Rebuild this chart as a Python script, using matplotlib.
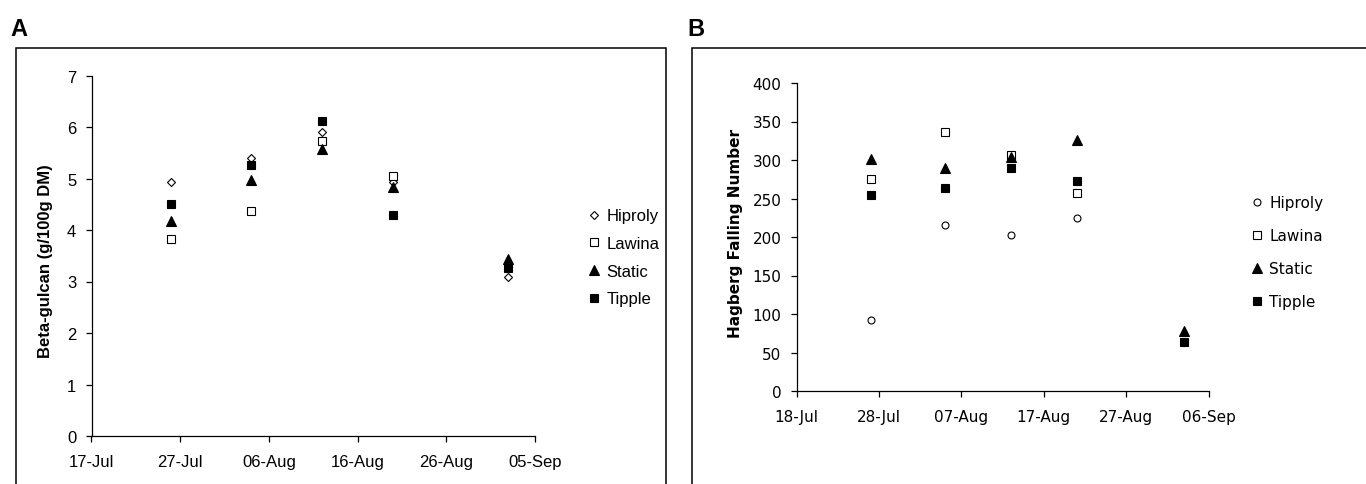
import numpy as np
import matplotlib
matplotlib.use('Agg')
import matplotlib.pyplot as plt
import matplotlib.dates as mdates
from matplotlib.patches import Rectangle
from datetime import date, timedelta

# ── data ─────────────────────────────────────────────────────────────────
varieties = ['Hiproly', 'Lawina', 'Static', 'Tipple']

dates_a = ['2008-07-26', '2008-08-04', '2008-08-12', '2008-08-20', '2008-09-02']
hiproly_a = [4.93, 5.40, 5.90, 4.93, 3.09]
lawina_a = [3.83, 4.37, 5.72, 5.05, np.nan]
static_a = [4.17, 4.97, 5.58, 4.83, 3.43]
tipple_a = [4.50, 5.26, 6.11, 4.30, 3.26]

dates_b = ['2008-07-27', '2008-08-05', '2008-08-13', '2008-08-21', '2008-09-03']
hiproly_b = [92, 215, 203, 225, np.nan]
lawina_b = [275, 337, 306, 257, np.nan]
static_b = [301, 290, 304, 326, 78]
tipple_b = [254, 264, 289, 273, 64]

W, H = 1366, 485
fig = plt.figure(figsize=(W / 100, H / 100), dpi=100)


def fx(px):
    return px / W


def fy(py):
    return 1 - py / H


def style_axes(ax, font, size):
    for s in ['top', 'right']:
        ax.spines[s].set_visible(False)
    for s in ['left', 'bottom']:
        ax.spines[s].set_linewidth(0.9)
        ax.spines[s].set_color('black')
    ax.tick_params(direction='out', length=4, width=0.9, colors='black')
    ax.tick_params(axis='x', pad=9)
    ax.tick_params(axis='y', pad=7)
    for lab in ax.get_xticklabels() + ax.get_yticklabels():
        lab.set_fontfamily(font)
        lab.set_fontsize(size)


def draw_points(ax, x, series, markers):
    for name, vals, (mk, ms, fc) in zip(varieties, series, markers):
        ax.plot(x, vals, linestyle='none', marker=mk, markersize=ms,
                markerfacecolor=fc, markeredgecolor='black',
                markeredgewidth=0.8, label=name)


# ── panel A ──────────────────────────────────────────────────────────────
axA = fig.add_axes([fx(91.5), fy(437), fx(535) - fx(91.5), fy(76.5) - fy(437)])
xa = [np.datetime64(d) for d in dates_a]
markers_a = [('D', 4.5, 'white'), ('s', 5.5, 'white'),
             ('^', 7, 'black'), ('s', 5.8, 'black')]
draw_points(axA, xa, [hiproly_a, lawina_a, static_a, tipple_a], markers_a)
start_a = date(2008, 7, 17)
ticks_a = [start_a + timedelta(days=10 * i) for i in range(6)]
axA.set_xlim(ticks_a[0], ticks_a[-1])
axA.set_xticks(ticks_a)
axA.xaxis.set_major_formatter(mdates.DateFormatter('%d-%b'))
axA.set_ylim(0, 7)
axA.set_yticks(range(8))
style_axes(axA, 'Liberation Sans', 12)
fig.text(fx(45.5), fy(261), 'Beta-gulcan (g/100g DM)', rotation=90,
         ha='center', va='center', fontsize=12, fontweight='bold',
         family='Liberation Sans')
axA.legend(loc='center left', bbox_to_anchor=(fx(587.3), fy(258.5)),
           bbox_transform=fig.transFigure, frameon=False, borderpad=0,
           borderaxespad=0, handlelength=0.8, handletextpad=0.35,
           labelspacing=0.76, prop={'family': 'Liberation Sans', 'size': 12})

# ── panel B ──────────────────────────────────────────────────────────────
axB = fig.add_axes([fx(796.7), fy(392), fx(1208.5) - fx(796.7), fy(84) - fy(392)])
xb = [np.datetime64(d) for d in dates_b]
markers_b = [('o', 5, 'white'), ('s', 5.5, 'white'),
             ('^', 7, 'black'), ('s', 5.8, 'black')]
draw_points(axB, xb, [hiproly_b, lawina_b, static_b, tipple_b], markers_b)
start_b = date(2008, 7, 18)
ticks_b = [start_b + timedelta(days=10 * i) for i in range(6)]
axB.set_xlim(ticks_b[0], ticks_b[-1])
axB.set_xticks(ticks_b)
axB.xaxis.set_major_formatter(mdates.DateFormatter('%d-%b'))
axB.set_ylim(0, 400)
axB.set_yticks(range(0, 401, 50))
style_axes(axB, 'DejaVu Sans', 11)
fig.text(fx(735.5), fy(234), 'Hagberg Falling Number', rotation=90,
         ha='center', va='center', fontsize=11, fontweight='bold',
         family='DejaVu Sans')
axB.legend(loc='center left', bbox_to_anchor=(fx(1250.9), fy(253)),
           bbox_transform=fig.transFigure, frameon=False, borderpad=0,
           borderaxespad=0, handlelength=0.8, handletextpad=0.4,
           labelspacing=1.18, prop={'family': 'DejaVu Sans', 'size': 11})

# ── panel frames and letters ─────────────────────────────────────────────
fig.patches.append(Rectangle((fx(16), fy(500)), fx(666) - fx(16), fy(49) - fy(500),
                             transform=fig.transFigure, fill=False,
                             edgecolor='black', linewidth=1.1, clip_on=False))
fig.patches.append(Rectangle((fx(692), fy(500)), fx(1400) - fx(692), fy(49) - fy(500),
                             transform=fig.transFigure, fill=False,
                             edgecolor='black', linewidth=1.1, clip_on=False))
fig.text(fx(10), fy(18), 'A', ha='left', va='top', fontsize=17,
         fontweight='bold', family='Liberation Sans')
fig.text(fx(687), fy(18), 'B', ha='left', va='top', fontsize=17,
         fontweight='bold', family='Liberation Sans')

fig.savefig('out.png', dpi=100)
